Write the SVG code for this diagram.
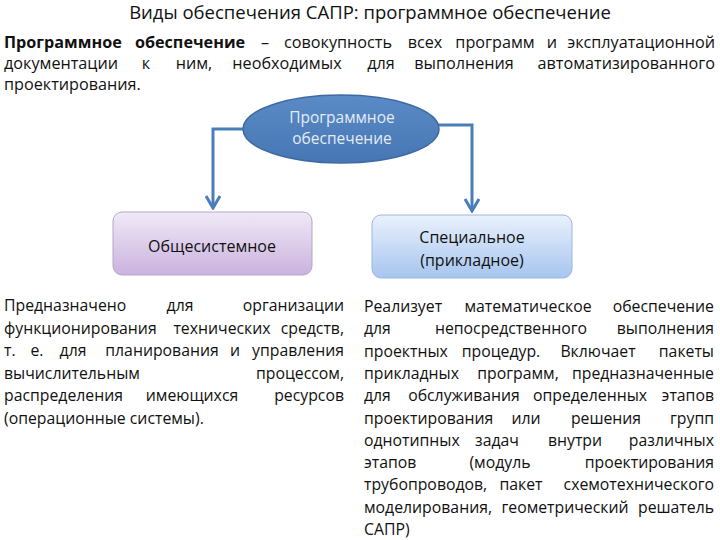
<svg xmlns="http://www.w3.org/2000/svg" width="720" height="540" viewBox="0 0 720 540">
<defs>
<style>
text{font-family:"Open Sans","Noto Sans",sans-serif;fill:#111}
.t{font-size:18.5px;text-anchor:middle}
.b{font-size:15.8px}
.i{font-size:16.2px}
.bold{font-weight:bold}
.m{text-anchor:middle}
.r{text-anchor:end}
.n{font-size:16px;text-anchor:middle}
.e{font-size:15.5px;text-anchor:middle;fill:#e3ebf6}
.c{fill:none;stroke:#4a7ebb;stroke-width:3}
</style>
<linearGradient id="gP" x1="0" y1="0" x2="0" y2="1"><stop offset="0" stop-color="#f0e9f7"/><stop offset="1" stop-color="#cab2de"/></linearGradient>
<linearGradient id="gB" x1="0" y1="0" x2="0" y2="1"><stop offset="0" stop-color="#eaf1fc"/><stop offset="1" stop-color="#a6c5ef"/></linearGradient>
<linearGradient id="gE" x1="0" y1="0" x2="0" y2="1"><stop offset="0" stop-color="#5a8bc6"/><stop offset="1" stop-color="#4677b4"/></linearGradient>
<marker id="ah" viewBox="0 0 16 16" refX="14" refY="8" markerWidth="16" markerHeight="16" markerUnits="userSpaceOnUse" orient="auto">
<polyline points="2,1 14,8 2,15" fill="none" stroke="#4a7ebb" stroke-width="3"/>
</marker>
</defs>
<rect width="720" height="540" fill="#fff"/>
<text class="t" x="370" y="19">Виды обеспечения САПР: программное обеспечение</text>
<g id="intro">
<text class="i bold" x="4" y="48">Программное</text>
<text class="i bold m" x="190" y="48">обеспечение</text>
<text class="i m" x="265" y="48">–</text>
<text class="i m" x="338" y="48">совокупность</text>
<text class="i m" x="425" y="48">всех</text>
<text class="i m" x="495" y="48">программ</text>
<text class="i m" x="552" y="48">и</text>
<text class="i r" x="715" y="48">эксплуатационной</text>
<text class="i" x="4" y="69">документации</text>
<text class="i m" x="146" y="69">к</text>
<text class="i m" x="194" y="69">ним,</text>
<text class="i m" x="287" y="69">необходимых</text>
<text class="i m" x="381" y="69">для</text>
<text class="i m" x="464" y="69">выполнения</text>
<text class="i r" x="715" y="69">автоматизированного</text>
<text class="i" x="4" y="90">проектирования.</text>
</g>
<g id="connectors">
<polyline class="c" points="244,129 213,129 213,208" marker-end="url(#ah)"/>
<polyline class="c" points="438,125 472,125 472,211" marker-end="url(#ah)"/>
</g>
<g id="root">
<ellipse cx="341" cy="129" rx="98" ry="34" fill="url(#gE)" stroke="#3d6aa3" stroke-width="1.5"/>
<text class="e" x="342" y="123">Программное</text>
<text class="e" x="342" y="144">обеспечение</text>
</g>
<g id="general">
<rect x="113" y="212" width="199" height="63" rx="9" fill="url(#gP)" stroke="#b7a5c9" stroke-width="1"/>
<text class="n" x="212" y="252">Общесистемное</text>
</g>
<g id="special">
<rect x="372" y="215" width="200" height="63" rx="9" fill="url(#gB)" stroke="#9db8de" stroke-width="1"/>
<text class="n" x="472" y="243">Специальное</text>
<text class="n" x="472" y="266">(прикладное)</text>
</g>
<g id="left-text">
<text class="b" x="4" y="311">Предназначено</text>
<text class="b m" x="180" y="311">для</text>
<text class="b r" x="344" y="311">организации</text>
<text class="b" x="4" y="333.5">функционирования</text>
<text class="b m" x="222" y="333.5">технических</text>
<text class="b r" x="344" y="333.5">средств,</text>
<text class="b" x="4" y="356">т.</text>
<text class="b m" x="37" y="356">е.</text>
<text class="b m" x="73" y="356">для</text>
<text class="b m" x="162" y="356">планирования</text>
<text class="b m" x="235" y="356">и</text>
<text class="b r" x="344" y="356">управления</text>
<text class="b" x="4" y="378.5">вычислительным</text>
<text class="b r" x="344" y="378.5">процессом,</text>
<text class="b" x="4" y="401">распределения</text>
<text class="b m" x="192" y="401">имеющихся</text>
<text class="b r" x="344" y="401">ресурсов</text>
<text class="b" x="4" y="423.5">(операционные системы).</text>
</g>
<g id="right-text">
<text class="b" x="364" y="312">Реализует</text>
<text class="b m" x="528" y="312">математическое</text>
<text class="b r" x="714" y="312">обеспечение</text>
<text class="b" x="364" y="334.3">для</text>
<text class="b m" x="511" y="334.3">непосредственного</text>
<text class="b r" x="714" y="334.3">выполнения</text>
<text class="b" x="364" y="356.6">проектных</text>
<text class="b m" x="501" y="356.6">процедур.</text>
<text class="b m" x="598" y="356.6">Включает</text>
<text class="b r" x="714" y="356.6">пакеты</text>
<text class="b" x="364" y="378.9">прикладных</text>
<text class="b m" x="518" y="378.9">программ,</text>
<text class="b r" x="714" y="378.9">предназначенные</text>
<text class="b" x="364" y="401.2">для</text>
<text class="b m" x="464" y="401.2">обслуживания</text>
<text class="b m" x="590" y="401.2">определенных</text>
<text class="b r" x="714" y="401.2">этапов</text>
<text class="b" x="364" y="423.5">проектирования</text>
<text class="b m" x="526" y="423.5">или</text>
<text class="b m" x="606" y="423.5">решения</text>
<text class="b r" x="714" y="423.5">групп</text>
<text class="b" x="364" y="445.8">однотипных</text>
<text class="b m" x="497" y="445.8">задач</text>
<text class="b m" x="575" y="445.8">внутри</text>
<text class="b r" x="714" y="445.8">различных</text>
<text class="b" x="364" y="468.1">этапов</text>
<text class="b m" x="500" y="468.1">(модуль</text>
<text class="b r" x="714" y="468.1">проектирования</text>
<text class="b" x="364" y="490.4">трубопроводов,</text>
<text class="b m" x="521" y="490.4">пакет</text>
<text class="b r" x="714" y="490.4">схемотехнического</text>
<text class="b" x="364" y="512.7">моделирования,</text>
<text class="b m" x="565" y="512.7">геометрический</text>
<text class="b r" x="714" y="512.7">решатель</text>
<text class="b" x="364" y="535">САПР)</text>
</g>
</svg>
